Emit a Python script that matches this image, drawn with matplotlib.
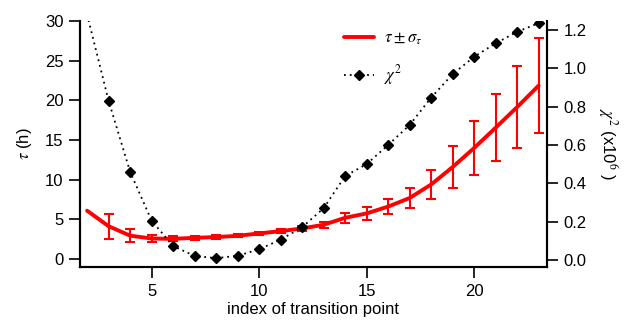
import matplotlib
matplotlib.use('Agg')
import matplotlib.pyplot as plt
import numpy as np

plt.rcParams['font.family'] = ['Liberation Sans', 'DejaVu Sans']
plt.rcParams['mathtext.fontset'] = 'stix'

# index of transition point
idx = [2, 3, 4, 5, 6, 7, 8, 9, 10, 11, 12, 13, 14, 15, 16, 17, 18, 19, 20, 21, 22, 23]

# tau (h) and its uncertainty (no error bar at the first point)
tau = [6.1, 4.15, 2.96, 2.6, 2.56, 2.69, 2.78, 2.94, 3.24, 3.53, 3.87, 4.33,
       5.21, 5.76, 6.62, 7.7, 9.4, 11.6, 14.0, 16.55, 19.15, 21.85]
tau_err = [np.nan, 1.55, 0.78, 0.45, 0.3, 0.25, 0.22, 0.2, 0.2, 0.25, 0.3, 0.37,
           0.63, 0.8, 0.95, 1.28, 1.8, 2.6, 3.4, 4.25, 5.15, 5.95]

# chi^2 (x10^6)
chi2 = [1.28, 0.83, 0.46, 0.205, 0.073, 0.021, 0.010, 0.022, 0.056, 0.106, 0.171,
        0.27, 0.438, 0.50, 0.60, 0.704, 0.847, 0.969, 1.06, 1.13, 1.19, 1.235]

fig = plt.figure(figsize=(6.3, 3.31), dpi=100)
ax = fig.add_axes([0.127, 0.193, 0.741, 0.744])
ax2 = ax.twinx()

# tau curve with error bars
red = '#ff0000'
l1, = ax.plot(idx, tau, color=red, lw=2.8, solid_capstyle='round')
ax.errorbar(idx[1:], tau[1:], yerr=tau_err[1:], fmt='none', ecolor=red,
            elinewidth=1.5, capsize=3.8, capthick=1.5)

# chi^2 dotted line with diamonds
l2, = ax2.plot(idx, chi2, color='black', lw=1.3, ls=(0, (1, 2.2)),
               marker='D', markersize=5.5, markerfacecolor='black',
               markeredgecolor='black')

ax.set_xlim(1.67, 23.38)
ax.set_ylim(-1.0, 30)
ax2.set_ylim(-0.037, 1.247)

ax.set_xticks([5, 10, 15, 20])
ax.set_yticks([0, 5, 10, 15, 20, 25, 30])
ax2.set_yticks([0.0, 0.2, 0.4, 0.6, 0.8, 1.0, 1.2])
ax2.set_yticklabels(['0.0', '0.2', '0.4', '0.6', '0.8', '1.0', '1.2'])

for a in (ax, ax2):
    a.spines['top'].set_visible(False)
    for s in a.spines.values():
        s.set_linewidth(1.5)
    a.tick_params(length=8, width=1.2, labelsize=12, pad=4)

ax.set_xlabel('index of transition point', fontsize=12, labelpad=2)
ax.set_ylabel(r'$\tau$ (h)', fontsize=12, labelpad=8)
ax2.set_ylabel(r'$\chi^2$ (x10$^6$ )', fontsize=12, rotation=270, labelpad=24)

leg = ax2.legend([l1, l2], [r'$\tau \pm \sigma_\tau$', r'$\chi^2$'],
                 loc='center', bbox_to_anchor=(0.608, 0.822),
                 bbox_transform=fig.transFigure, frameon=False,
                 fontsize=12, handlelength=1.8, labelspacing=1.0,
                 borderpad=0, handletextpad=0.6)

fig.savefig('out.png', dpi=100)
